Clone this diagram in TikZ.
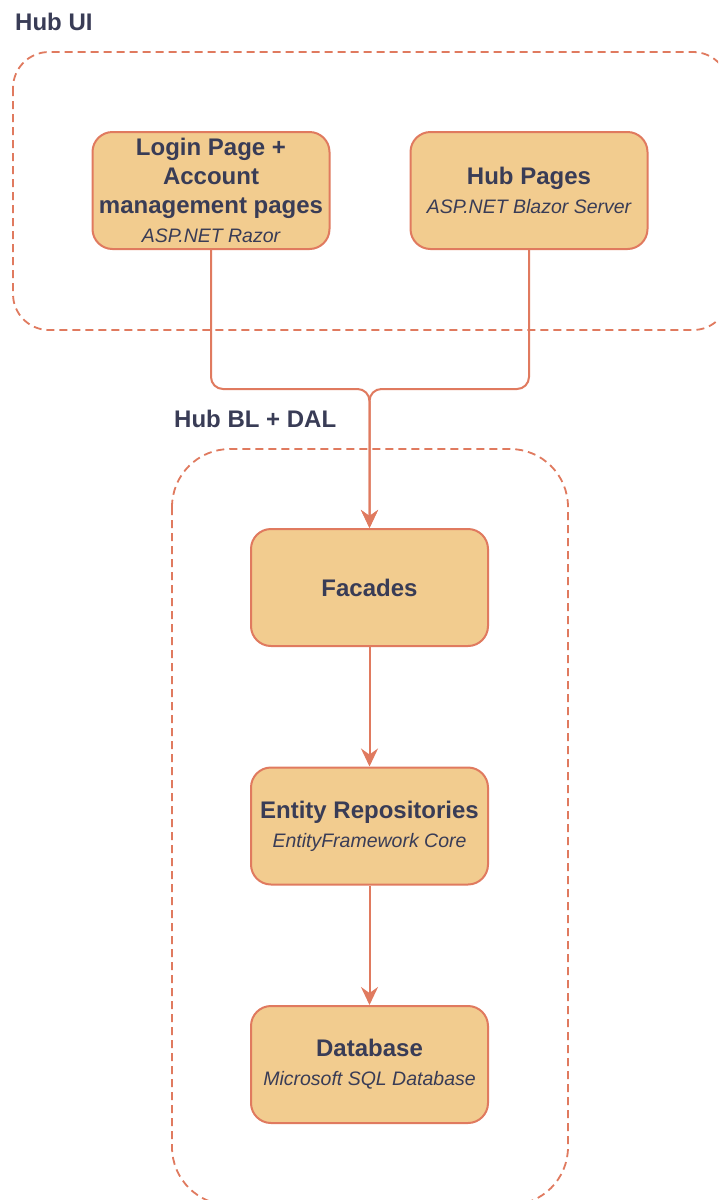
\documentclass[tikz,border=0pt]{standalone}
\usepackage{fontspec}
\setmainfont{Liberation Sans}
\usetikzlibrary{arrows.meta}
\definecolor{edge}{HTML}{E07A5F}
\definecolor{boxfill}{HTML}{F2CC8F}
\definecolor{ink}{HTML}{393C56}
\newcommand{\tfnt}{\fontsize{24}{29}\selectfont\bfseries}
\newcommand{\sfnt}{\fontsize{19.5}{29}\selectfont\mdseries\itshape}
\tikzset{
  container/.style={draw=edge, line width=1.8pt, dash pattern=on 8pt off 5pt, rounded corners=#1},
  grouplabel/.style={text=ink, font=\tfnt, anchor=west, inner sep=0pt},
  block/.style={draw=edge, fill=boxfill, line width=2pt, rounded corners=20pt,
    minimum width=237pt, minimum height=117pt, align=center, text=ink, font=\tfnt, inner sep=0pt},
  conn/.style={draw=edge, line width=2pt, rounded corners=12pt, -{Stealth[length=18pt,width=17pt,inset=6pt]}},
}
\begin{document}
\begin{tikzpicture}[x=1pt,y=-1pt]
\clip (0,0) rectangle (718,1200);
\fill[white] (0,0) rectangle (718,1200);
% containers
\draw[container=36pt] (13,52) rectangle (729,330);
\draw[container=58pt] (172,449) rectangle (568,1205);
\node[grouplabel] (hubui) at (15,22) {Hub UI};
\node[grouplabel] (hubbl) at (174,419) {Hub BL + DAL};
% blocks
\node[block] (login) at (211,190.5) {\tfnt Login Page +\\\tfnt Account\\\tfnt management pages\\\sfnt ASP.NET Razor};
\node[block] (pages) at (529,190.5) {\tfnt Hub Pages\\\sfnt ASP.NET Blazor Server};
\node[block] (fac) at (369.5,587.5) {\tfnt Facades};
\node[block] (repo) at (369.5,826) {\tfnt Entity Repositories\\\sfnt EntityFramework Core};
\node[block] (db) at (369.5,1064.5) {\tfnt Database\\\sfnt Microsoft SQL Database};
% connectors
\coordinate (join) at (369.5,389);
\draw[conn] (login.south) |- (join) -- (fac.north);
\draw[conn] (pages.south) |- (join) -- (fac.north);
\draw[conn] (fac.south) -- (repo.north);
\draw[conn] (repo.south) -- (db.north);
\end{tikzpicture}
\end{document}
